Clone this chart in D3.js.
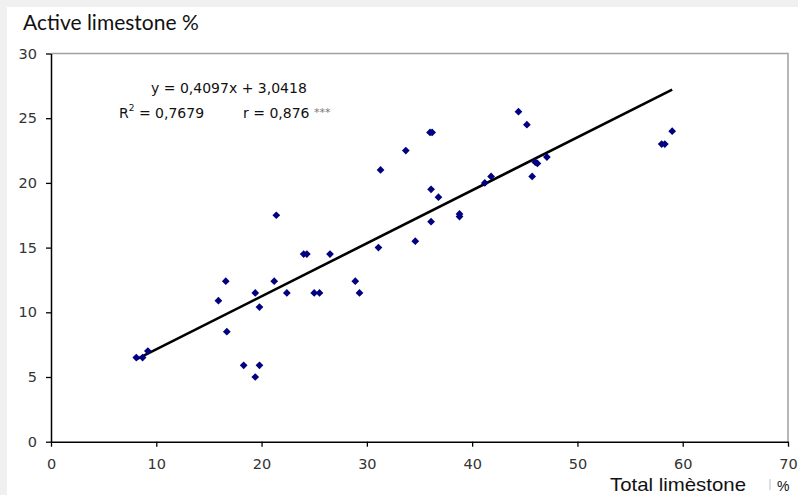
<!DOCTYPE html>
<html>
<head>
<meta charset="utf-8">
<script src="https://cdn.jsdelivr.net/npm/d3@7/dist/d3.min.js"></script>
<style>
  html, body { margin: 0; padding: 0; background: #fff; }
  svg { display: block; }
</style>
</head>
<body>
<svg id="chart" width="798" height="495"></svg>
<script>
// Total limestone (%) vs active limestone (%) for each sample
const totalLimestone = [
  8.1, 8.7, 9.2, 15.9, 16.6, 16.7, 18.3, 19.8, 19.4, 19.4, 19.8, 21.2,
  21.4, 22.4, 24.0, 24.3, 25.0, 25.5, 26.5, 28.9, 29.3, 31.1, 31.3, 33.7,
  34.6, 36.0, 36.2, 36.1, 36.1, 36.8, 38.8, 38.8, 41.2, 41.8, 44.4, 45.2,
  45.7, 46.0, 46.2, 47.1, 58.0, 58.3, 59.0
];
const activeLimestone = [
  6.5, 6.5, 7.0, 10.9, 12.4, 8.5, 5.9, 5.9, 5.0, 11.5, 10.4, 12.4,
  17.5, 11.5, 14.5, 14.5, 11.5, 11.5, 14.5, 12.4, 11.5, 15.0, 21.0, 22.5,
  15.5, 23.9, 23.9, 19.5, 17.0, 18.9, 17.6, 17.4, 20.0, 20.5, 25.5, 24.5,
  20.5, 21.6, 21.5, 22.0, 23.0, 23.0, 24.0
];

// Linear trend line reported for the series
const slope = 0.4097;
const intercept = 3.0418;
const equationText = "y = 0,4097x + 3,0418";
const r2Text = "0,7679";
const rText = "r = 0,876";
const signifText = "***";

const xTicks = [0, 10, 20, 30, 40, 50, 60, 70];
const yTicks = [0, 5, 10, 15, 20, 25, 30];

const yTitle = "Active limestone %";
const xTitle = "Total limèstone";
const xUnit = "%";

const svg = d3.select("#chart");
const W = 798, H = 495;

// light frame at top and left edge
svg.append("rect").attr("width", W).attr("height", H).attr("fill", "#f0f0f0");
svg.append("rect").attr("x", 7).attr("y", 7).attr("width", W - 7).attr("height", H - 7).attr("fill", "#fff");

const x = d3.scaleLinear().domain([0, 70]).range([51, 788]);
const y = d3.scaleLinear().domain([0, 30]).range([441.7, 53.5]);

const tickFont = "DejaVu Sans, Verdana, sans-serif";

// plot area border (top and right)
svg.append("path")
  .attr("d", `M${x(0)},${y(30)}H${x(70)}V${y(0)}`)
  .attr("fill", "none").attr("stroke", "#a0a0a0").attr("stroke-width", 1.5);

// axes
const gx = svg.append("g")
  .attr("transform", `translate(0,${y(0)})`)
  .call(d3.axisBottom(x).tickValues(xTicks).tickSize(5).tickSizeOuter(0).tickPadding(12));
const gy = svg.append("g")
  .attr("transform", `translate(${x(0)},0)`)
  .call(d3.axisLeft(y).tickValues(yTicks).tickSize(5).tickSizeOuter(0).tickPadding(9));

[gx, gy].forEach(g => {
  g.select(".domain").attr("stroke", "#000").attr("stroke-width", 1.5);
  g.selectAll(".tick line").attr("stroke", "#000").attr("stroke-width", 1.3);
  g.selectAll(".tick text")
    .attr("fill", "#333")
    .style("font-family", tickFont)
    .style("font-size", "14.5px");
});

// trend line across the data range
const xMin = d3.min(totalLimestone), xMax = d3.max(totalLimestone);
svg.append("line")
  .attr("x1", x(xMin)).attr("y1", y(slope * xMin + intercept))
  .attr("x2", x(xMax)).attr("y2", y(slope * xMax + intercept))
  .attr("stroke", "#000").attr("stroke-width", 2.6);

// sample points as navy diamonds
const diamond = d3.symbol().type(d3.symbolSquare).size(30);
svg.append("g").selectAll("path")
  .data(totalLimestone.map((v, i) => [v, activeLimestone[i]]))
  .join("path")
  .attr("d", diamond)
  .attr("transform", d => `translate(${x(d[0])},${y(d[1])}) rotate(45)`)
  .attr("fill", "#000080");

// equation labels
const eqFont = "DejaVu Sans, Verdana, sans-serif";
svg.append("text")
  .attr("x", 151).attr("y", 92.5)
  .style("font-family", eqFont).style("font-size", "14px").attr("fill", "#111")
  .text(equationText);

const r2 = svg.append("text")
  .attr("x", 119).attr("y", 117.5)
  .style("font-family", eqFont).style("font-size", "14px").attr("fill", "#111");
r2.append("tspan").text("R");
r2.append("tspan").attr("dy", -7).style("font-size", "9px").text("2");
r2.append("tspan").attr("dy", 7).text(" = " + r2Text);

const rLbl = svg.append("text")
  .attr("x", 243).attr("y", 117.5)
  .style("font-family", eqFont).style("font-size", "14px").attr("fill", "#111");
rLbl.append("tspan").text(rText + " ");
rLbl.append("tspan").attr("fill", "#777").style("font-size", "11px").attr("dy", -2).text(signifText);

// axis titles
svg.append("text")
  .attr("x", 23).attr("y", 29.5)
  .style("font-family", "Lato, 'Open Sans', sans-serif").style("font-size", "21px").attr("fill", "#111")
  .text(yTitle);

const xTitleFont = "'Liberation Sans', Arial, sans-serif";
svg.append("text")
  .attr("x", 610).attr("y", 490.5)
  .attr("textLength", 136).attr("lengthAdjust", "spacingAndGlyphs")
  .style("font-family", xTitleFont).style("font-size", "19px").attr("fill", "#111")
  .text(xTitle);
svg.append("line")
  .attr("x1", 770).attr("x2", 770).attr("y1", 479).attr("y2", 490)
  .attr("stroke", "#c8c8c8").attr("stroke-width", 1.2);
svg.append("text")
  .attr("x", 777).attr("y", 490.5)
  .style("font-family", xTitleFont).style("font-size", "14px").attr("fill", "#111")
  .text(xUnit);
</script>
</body>
</html>
